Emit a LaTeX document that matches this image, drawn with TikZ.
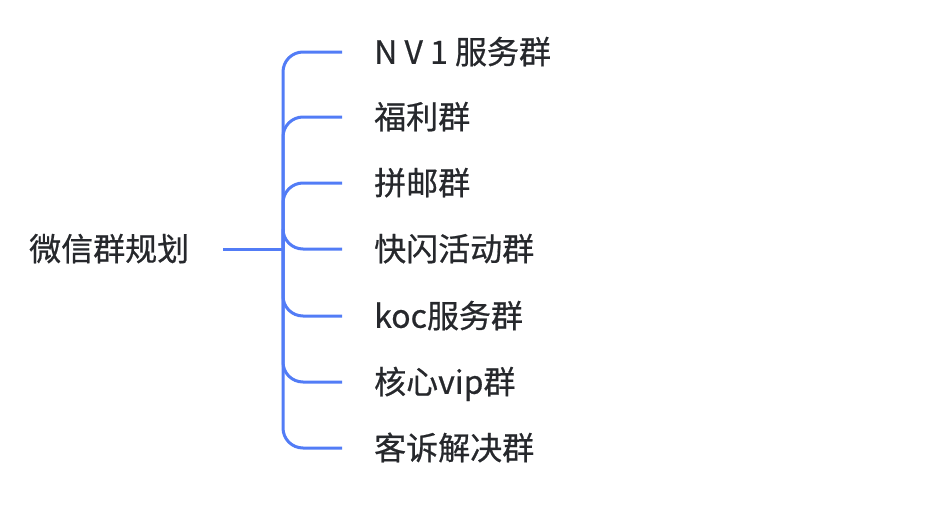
\documentclass[tikz,border=0pt]{standalone}
\usepackage{fontspec}
\setmainfont{Noto Sans CJK SC}[FakeBold=0.6]
\definecolor{linkblue}{RGB}{82,124,246}
\definecolor{txt}{RGB}{38,40,44}
\begin{document}
\begin{tikzpicture}[x=1pt,y=-1pt,
  lbl/.style={anchor=west,inner sep=0pt,text=txt,font=\fontsize{32}{38}\selectfont,text height=27.5pt,text depth=4pt},
  link/.style={draw=linkblue,line width=3pt,rounded corners=20pt}]
\useasboundingbox (0,0) rectangle (930,504);
\node[lbl] (root) at (29,249) {微信群规划};
\node[lbl] (c1) at (374,52) {N V 1 服务群};
\node[lbl] (c2) at (374,117) {福利群};
\node[lbl] (c3) at (374,183) {拼邮群};
\node[lbl] (c4) at (374,249) {快闪活动群};
\node[lbl] (c5) at (374,316) {koc服务群};
\node[lbl] (c6) at (374,382) {核心vip群};
\node[lbl] (c7) at (374,448) {客诉解决群};
\coordinate (fork) at (283,249);
\draw[link] ([xshift=34pt]root.east) -- (fork);
\foreach \c in {c1,c2,c3,c4,c5,c6,c7}{
  \draw[link] (fork) |- ([xshift=-32pt]\c.west);
}
\end{tikzpicture}
\end{document}
